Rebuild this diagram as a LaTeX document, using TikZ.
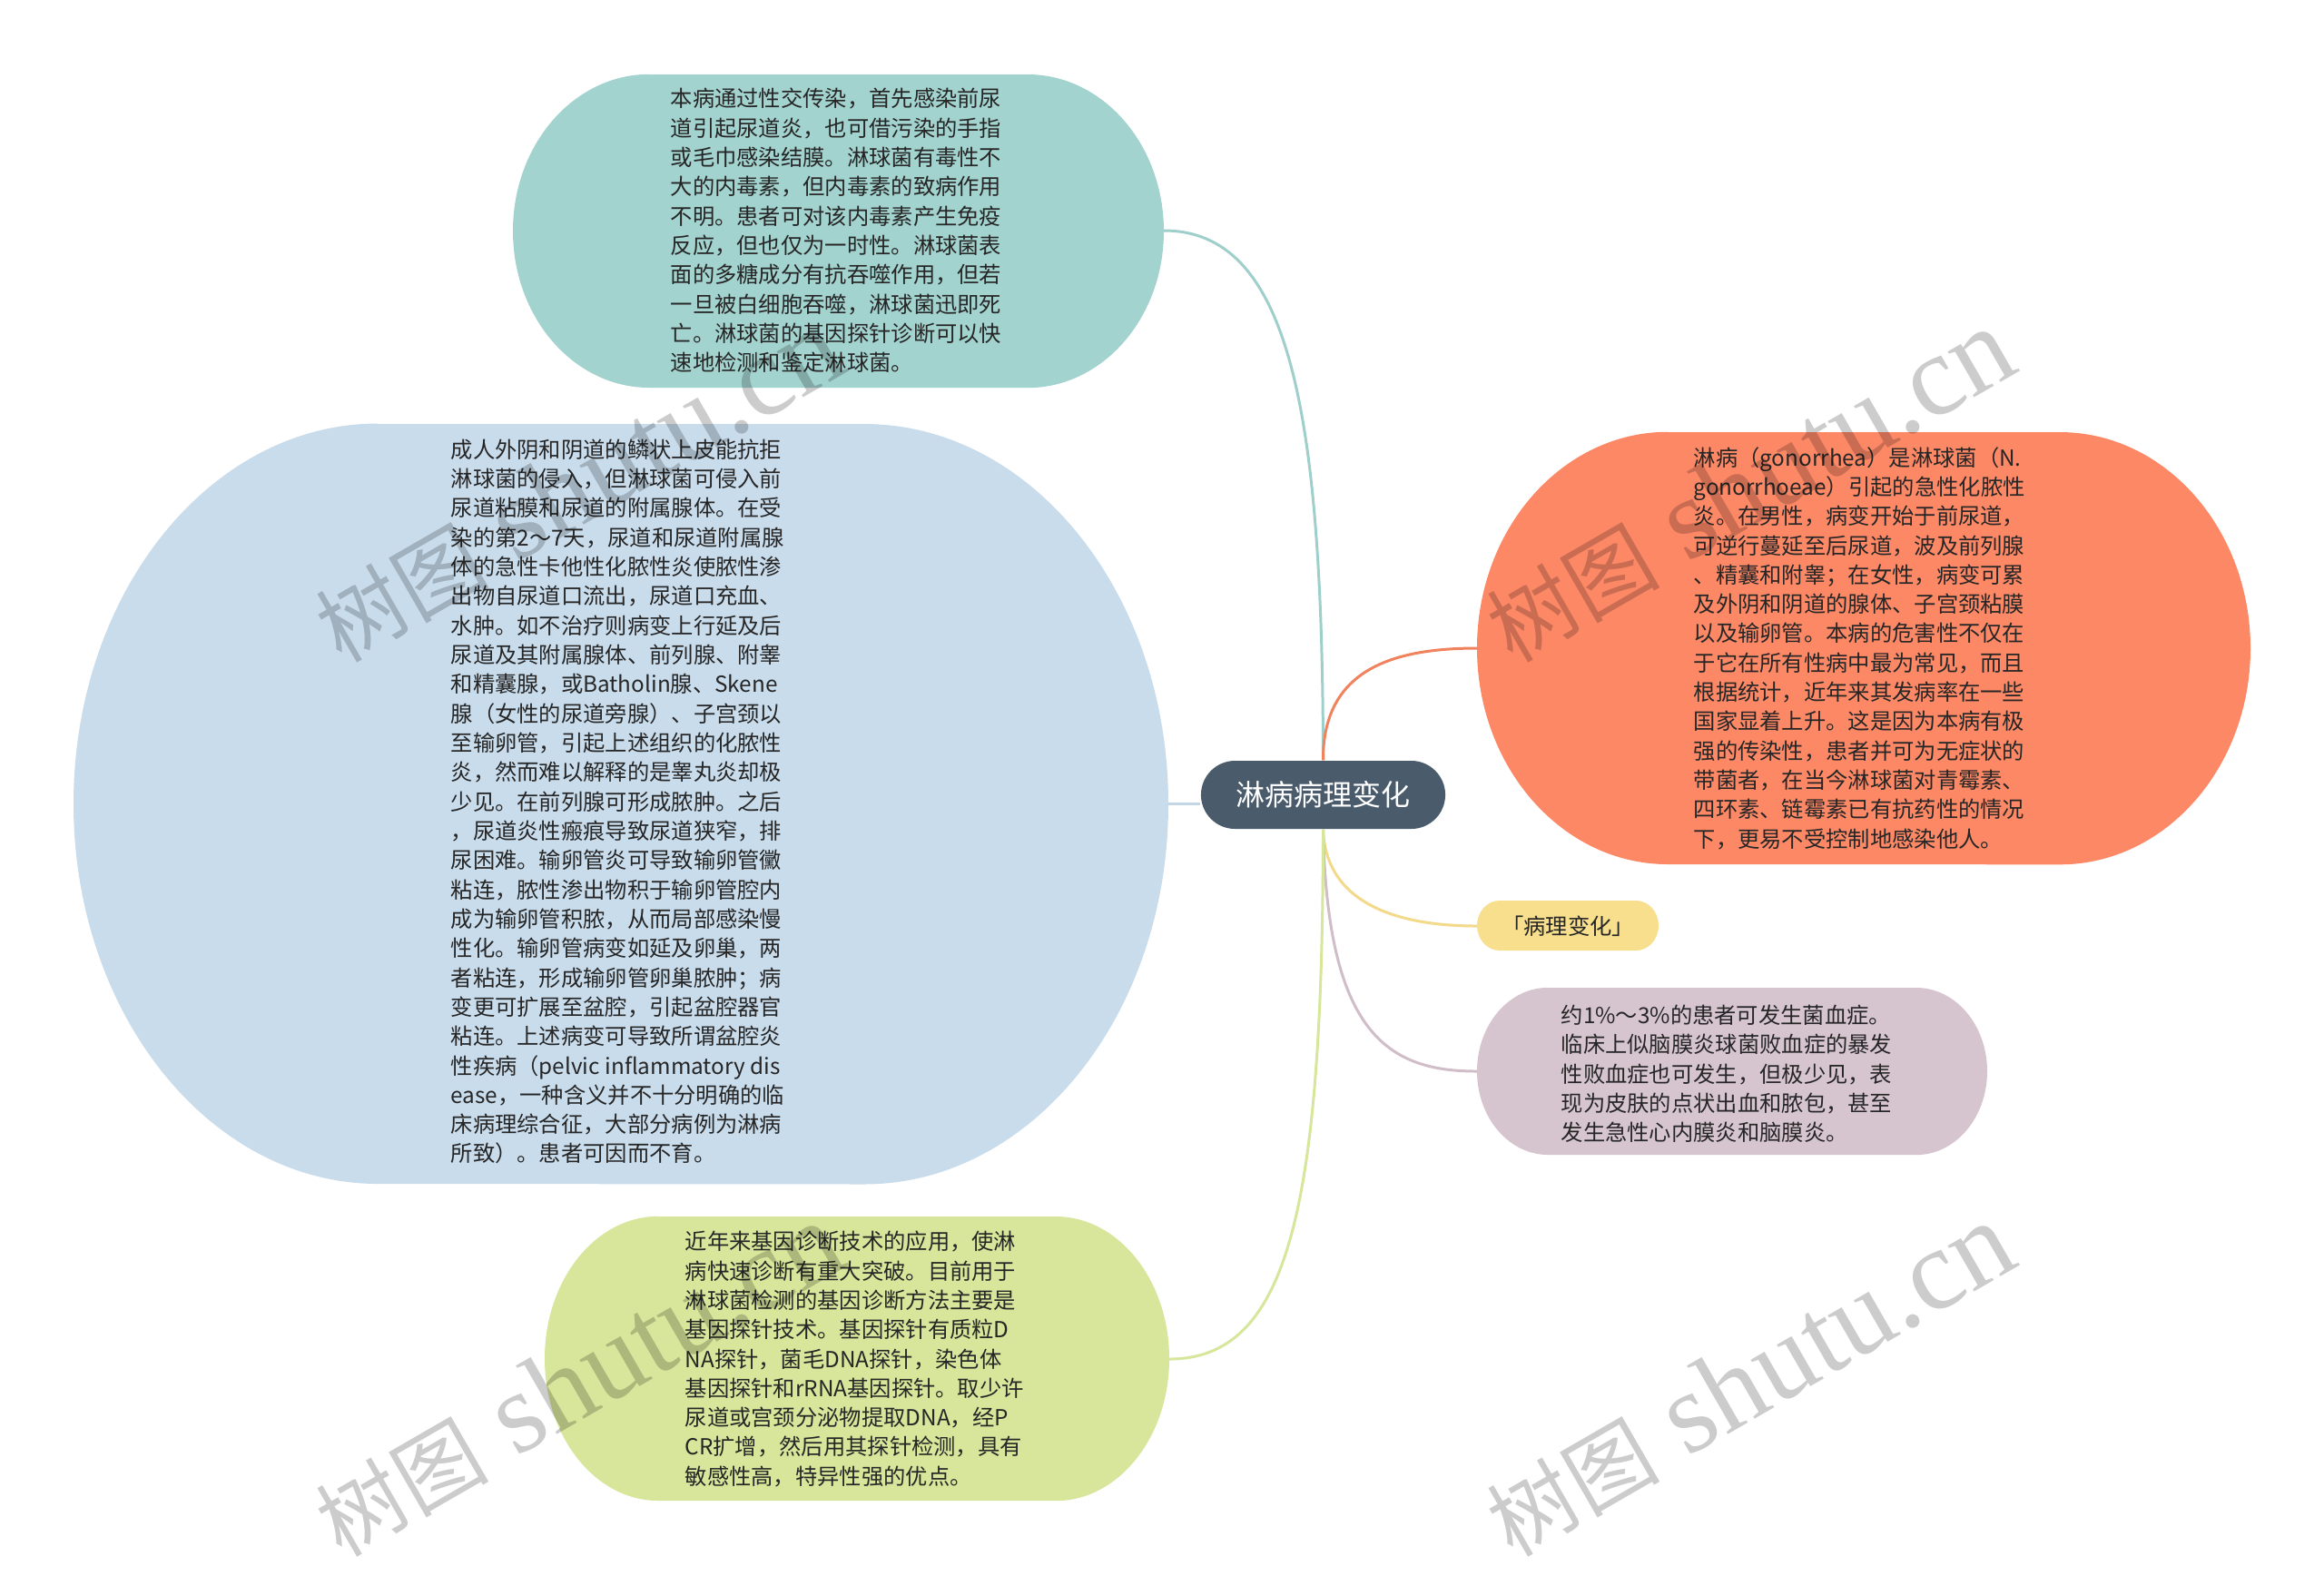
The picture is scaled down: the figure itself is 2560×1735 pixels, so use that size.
\documentclass[tikz,border=0pt]{standalone}
\usepackage{fontspec}
\usetikzlibrary{shapes.misc}
\newfontfamily\cjk{Noto Sans CJK SC}
\newfontfamily\cjkhalt[RawFeature=+halt]{Noto Sans CJK SC}
\newfontfamily\wmfont{Liberation Serif}
\definecolor{tealF}{HTML}{A3D3CF}
\definecolor{tealL}{HTML}{9FCFCB}
\definecolor{blueF}{HTML}{C9DCEC}
\definecolor{blueL}{HTML}{C3D6E6}
\definecolor{orangeF}{HTML}{FC8866}
\definecolor{orangeL}{HTML}{F0825E}
\definecolor{yellowF}{HTML}{F7DF8D}
\definecolor{yellowL}{HTML}{F3D98A}
\definecolor{pinkF}{HTML}{D6C5CF}
\definecolor{pinkL}{HTML}{D0BDC8}
\definecolor{greenF}{HTML}{D7E69A}
\definecolor{greenL}{HTML}{D6E69A}
\definecolor{rootF}{HTML}{4A5B6B}
\definecolor{txt}{HTML}{262626}
\newcommand{\pillshape}[7]{%
  \fill[#7] ([xshift=#5]#1,#2) -- ([xshift=-#5]#3,#2)
    arc[start angle=90,end angle=-90,x radius=#5,y radius=#6]
    -- ([xshift=#5]#1,#4)
    arc[start angle=270,end angle=90,x radius=#5,y radius=#6] -- cycle;}
\begin{document}
\begin{tikzpicture}[x=0.01cm,y=-0.01cm,
  body/.style={font=\cjk\fontsize{6.91}{9.19}\selectfont, text=txt, align=left, inner sep=0pt, anchor=west},
  conn/.style={line width=0.85pt},
  rootnode/.style={rounded rectangle, fill=rootF, text=white, minimum width=2.69cm, minimum height=0.75cm, inner sep=0pt, font=\cjk\fontsize{9.1}{10}\selectfont},
  wm/.style={font=\wmfont\fontsize{36}{40}\selectfont, text=black, text opacity=0.2, rotate=30, inner sep=0pt}]
\useasboundingbox (0,0) rectangle (2560,1735);
\fill[white] (0,0) rectangle (2560,1735);

% anchor points on the bubbles
\coordinate (tealR) at (1282,254);
\coordinate (blueR) at (1287,885);
\coordinate (orangeL) at (1627,714);
\coordinate (yellowL) at (1627,1020);
\coordinate (pinkL) at (1627,1180);
\coordinate (greenR) at (1288,1497);

\node[rootnode] (root) at (1457.5,875.5) {淋病病理变化};

% connectors
\draw[conn,tealL] (root.north) .. controls (1457,450) and (1420,254) .. (tealR);
\draw[conn,orangeL] (root.north) .. controls (1457,740) and (1530,714) .. (orangeL);
\draw[conn,blueL] (blueR) -- (blueR -| root.west);
\draw[conn,yellowL] (root.south) .. controls (1460,990) and (1530,1020) .. (yellowL);
\draw[conn,pinkL] (root.south) .. controls (1462,1140) and (1530,1180) .. (pinkL);
\draw[conn,greenL] (root.south) .. controls (1457,1330) and (1420,1497) .. (greenR);

% bubbles
\pillshape{565}{82}{1282}{427}{1.5cm}{1.725cm}{tealF}
\pillshape{81}{467}{1287}{1304}{3.35cm}{4.185cm}{blueF}
\pillshape{1627}{476}{2479}{952}{2.1cm}{2.38cm}{orangeF}
\pillshape{600}{1340}{1288}{1653}{1.25cm}{1.565cm}{greenF}
\pillshape{1627}{1088}{2189}{1272}{0.78cm}{0.92cm}{pinkF}
\pillshape{1627}{992}{1827}{1047}{0.25cm}{0.275cm}{yellowF}

% texts
\node[body] (tealT) at (738,254) {本病通过性交传染，首先感染前尿\\道引起尿道炎，也可借污染的手指\\或毛巾感染结膜。淋球菌有毒性不\\大的内毒素，但内毒素的致病作用\\不明。患者可对该内毒素产生免疫\\反应，但也仅为一时性。淋球菌表\\面的多糖成分有抗吞噬作用，但若\\一旦被白细胞吞噬，淋球菌迅即死\\亡。淋球菌的基因探针诊断可以快\\速地检测和鉴定淋球菌。};

\node[body] (blueT) at (496,883) {成人外阴和阴道的鳞状上皮能抗拒\\淋球菌的侵入，但淋球菌可侵入前\\尿道粘膜和尿道的附属腺体。在受\\染的第2～7天，尿道和尿道附属腺\\体的急性卡他性化脓性炎使脓性渗\\出物自尿道口流出，尿道口充血、\\水肿。如不治疗则病变上行延及后\\尿道及其附属腺体、前列腺、附睾\\和精囊腺，或Batholin腺、Skene\\腺（女性的尿道旁腺）、子宫颈以\\至输卵管，引起上述组织的化脓性\\炎，然而难以解释的是睾丸炎却极\\少见。在前列腺可形成脓肿。之后\\，尿道炎性瘢痕导致尿道狭窄，排\\尿困难。输卵管炎可导致输卵管黴\\粘连，脓性渗出物积于输卵管腔内\\成为输卵管积脓，从而局部感染慢\\性化。输卵管病变如延及卵巢，两\\者粘连，形成输卵管卵巢脓肿；病\\变更可扩展至盆腔，引起盆腔器官\\粘连。上述病变可导致所谓盆腔炎\\性疾病（pelvic inflammatory dis\\ease，一种含义并不十分明确的临\\床病理综合征，大部分病例为淋病\\所致）。患者可因而不育。};

\node[body] (orangeT) at (1865,714) {淋病（gonorrhea）是淋球菌（N.\\gonorrhoeae）引起的急性化脓性\\炎。在男性，病变开始于前尿道，\\可逆行蔓延至后尿道，波及前列腺\\、精囊和附睾；在女性，病变可累\\及外阴和阴道的腺体、子宫颈粘膜\\以及输卵管。本病的危害性不仅在\\于它在所有性病中最为常见，而且\\根据统计，近年来其发病率在一些\\国家显着上升。这是因为本病有极\\强的传染性，患者并可为无症状的\\带菌者，在当今淋球菌对青霉素、\\四环素、链霉素已有抗药性的情况\\下，更易不受控制地感染他人。};

\node[body, font=\cjkhalt\fontsize{6.91}{9.19}\selectfont, anchor=center] (yellowT) at (1727,1020) {「病理变化」};

\node[body] (pinkT) at (1719,1183) {约1\%～3\%的患者可发生菌血症。\\临床上似脑膜炎球菌败血症的暴发\\性败血症也可发生，但极少见，表\\现为皮肤的点状出血和脓包，甚至\\发生急性心内膜炎和脑膜炎。};

\node[body] (greenT) at (754,1497) {近年来基因诊断技术的应用，使淋\\病快速诊断有重大突破。目前用于\\淋球菌检测的基因诊断方法主要是\\基因探针技术。基因探针有质粒D\\NA探针，菌毛DNA探针，染色体\\基因探针和rRNA基因探针。取少许\\尿道或宫颈分泌物提取DNA，经P\\CR扩增，然后用其探针检测，具有\\敏感性高，特异性强的优点。};

% watermarks
\node[wm] (wm1) at (637,535) {{\cjk\fontsize{27}{30}\selectfont 树图} shutu.cn};
\node[wm] (wm2) at (1927,535) {{\cjk\fontsize{27}{30}\selectfont 树图} shutu.cn};
\node[wm] (wm3) at (637,1520) {{\cjk\fontsize{27}{30}\selectfont 树图} shutu.cn};
\node[wm] (wm4) at (1927,1520) {{\cjk\fontsize{27}{30}\selectfont 树图} shutu.cn};
\end{tikzpicture}
\end{document}
